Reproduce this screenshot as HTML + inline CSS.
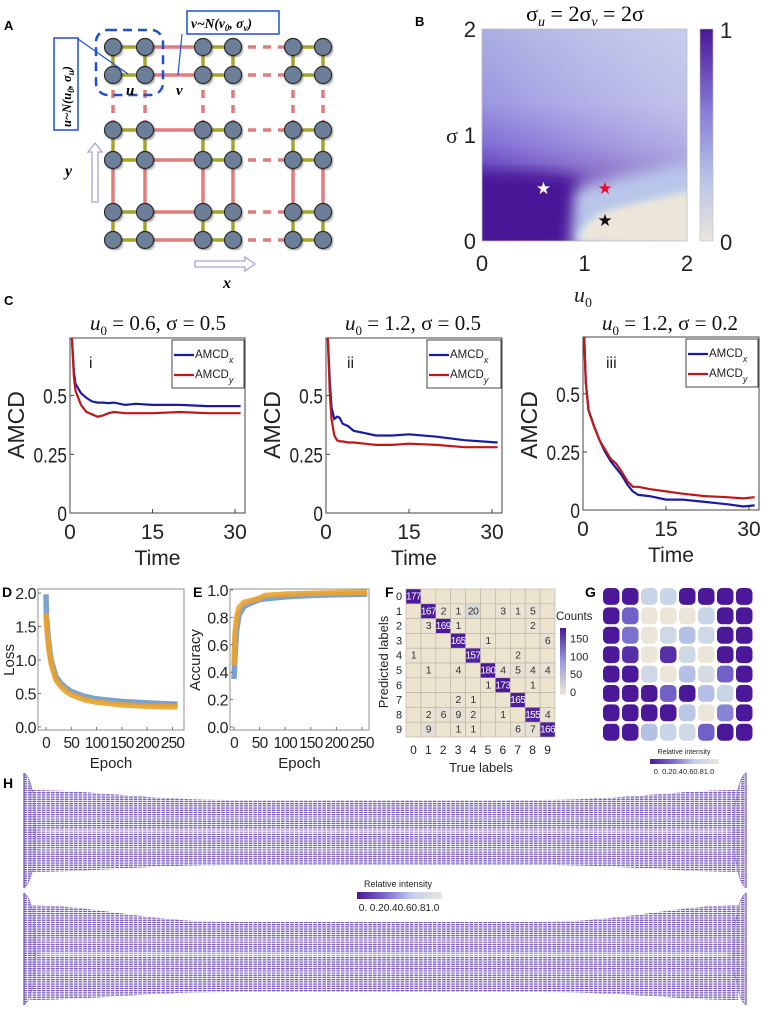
<!DOCTYPE html>
<html><head><meta charset="utf-8"><style>
html,body{margin:0;padding:0;background:#fff;}
svg{display:block;font-family:"Liberation Sans",sans-serif;}
.ser{font-family:"Liberation Serif",serif;}
</style></head><body>
<svg id="fig" width="762" height="1016" viewBox="0 0 762 1016" xmlns="http://www.w3.org/2000/svg">
<defs>
<linearGradient id="bV" x1="0" y1="0" x2="0" y2="1">
<stop offset="0" stop-color="#a9aee2"/><stop offset="0.35" stop-color="#9a96e0"/><stop offset="0.55" stop-color="#7d6ad4"/><stop offset="0.7" stop-color="#5a30b0"/><stop offset="0.8" stop-color="#4a1a9a"/><stop offset="1" stop-color="#4a1898"/></linearGradient>
<linearGradient id="bH" x1="0" y1="0" x2="1" y2="0">
<stop offset="0" stop-color="#fff" stop-opacity="0"/><stop offset="1" stop-color="#dfe6f2" stop-opacity="0.55"/></linearGradient>
<linearGradient id="cbB" x1="0" y1="0" x2="0" y2="1">
<stop offset="0" stop-color="#4a1898"/><stop offset="0.4" stop-color="#8a80d8"/><stop offset="0.7" stop-color="#b6c2e8"/><stop offset="1" stop-color="#ebe6dc"/></linearGradient>
<linearGradient id="cbH" x1="0" y1="0" x2="1" y2="0">
<stop offset="0" stop-color="#4a1898"/><stop offset="0.35" stop-color="#8070d0"/><stop offset="0.65" stop-color="#c4cfea"/><stop offset="1" stop-color="#ece6d8"/></linearGradient>
<linearGradient id="cbF" x1="0" y1="0" x2="0" y2="1">
<stop offset="0" stop-color="#4a1898"/><stop offset="0.5" stop-color="#9a9ae0"/><stop offset="1" stop-color="#ede6d4"/></linearGradient>
<filter id="blur3"><feGaussianBlur stdDeviation="3"/></filter>
<filter id="blur6"><feGaussianBlur stdDeviation="7"/></filter>
<filter id="blurS"><feGaussianBlur stdDeviation="4"/></filter>
<filter id="sh"><feDropShadow dx="1.5" dy="1.5" stdDeviation="1" flood-color="#000" flood-opacity="0.35"/></filter>
<pattern id="hp" width="4.6" height="2.2" patternUnits="userSpaceOnUse"><rect x="0.4" y="0" width="3.6" height="1.3" fill="#7456b8"/></pattern>
<clipPath id="clipB"><rect x="482" y="29" width="205" height="212"/></clipPath>
</defs>

<!-- Panel A -->
<g id="panelA">
<text x="4" y="30" font-size="13" font-weight="bold">A</text>
<g id="aEdges"></g>
<g id="aNodes"></g>
<rect x="96" y="30" width="67" height="65" rx="12" fill="none" stroke="#1f4fd8" stroke-width="2.5" stroke-dasharray="9,6"/>
<rect x="54" y="38" width="24" height="92" fill="#fff" stroke="#1f4fd8" stroke-width="1.5"/>
<text class="ser" transform="translate(71,127) rotate(-90)" font-size="12.5" font-weight="bold" font-style="italic">u~N(u<tspan font-size="9" dy="3">0</tspan><tspan dy="-3">, σ</tspan><tspan font-size="9" dy="3">u</tspan><tspan dy="-3">)</tspan></text>
<rect x="187" y="11" width="92" height="23" fill="#fff" stroke="#1f4fd8" stroke-width="1.5"/>
<text class="ser" x="191" y="28" font-size="13.5" font-weight="bold" font-style="italic">v~N(v<tspan font-size="9" dy="3">0</tspan><tspan dy="-3">, σ</tspan><tspan font-size="9" dy="3">v</tspan><tspan dy="-3">)</tspan></text>
<line x1="78" y1="39" x2="128" y2="74" stroke="#1f4fd8" stroke-width="1.2"/>
<line x1="182" y1="34" x2="178" y2="75" stroke="#1f4fd8" stroke-width="1.2"/>
<text class="ser" x="126" y="95" font-size="15" font-weight="bold" font-style="italic">u</text>
<text class="ser" x="176" y="95" font-size="15" font-weight="bold" font-style="italic">v</text>
<path d="M92,202 L92,152 L88,152 L95,143 L102,152 L98,152 L98,202 Z" fill="#fff" stroke="#b0a0d8" stroke-width="1.3"/>
<text class="ser" x="65" y="176" font-size="16" font-weight="bold" font-style="italic">y</text>
<path d="M195,261 L245,261 L245,257 L255,264 L245,271 L245,267 L195,267 Z" fill="#fff" stroke="#b0a0d8" stroke-width="1.3"/>
<text class="ser" x="223" y="288" font-size="16" font-weight="bold" font-style="italic">x</text>
</g>

<!-- Panel B -->
<g id="panelB">
<text x="415" y="26" font-size="13" font-weight="bold">B</text>
<text class="ser" x="585" y="21" font-size="22" text-anchor="middle">σ<tspan font-size="14" font-style="italic" dy="5">u</tspan><tspan dy="-5"> = 2σ</tspan><tspan font-size="14" font-style="italic" dy="5">v</tspan><tspan dy="-5"> = 2σ</tspan></text>
<g clip-path="url(#clipB)">
<rect x="482" y="29" width="205" height="212" fill="url(#bV)"/>
<rect x="482" y="29" width="205" height="212" fill="url(#bH)"/>
<path d="M470,175 C520,172 560,172 580,180 L580,250 L470,250 Z" fill="#4a1898" filter="url(#blur6)"/>
<path d="M575,190 C620,175 650,170 700,160 L700,250 L570,250 Z" fill="#b9c6ea" filter="url(#blur6)"/>
<path d="M577,241 C577,225 590,212 610,206 C640,198 665,192 690,185 L690,245 Z" fill="#bfd0ea" filter="url(#blur3)"/>
<path d="M581,241 C581,228 592,216 612,210 C642,202 667,197 690,192 L690,245 Z" fill="#ece6da" filter="url(#blur3)"/>
</g>
<rect x="482" y="29" width="205" height="212" fill="none" stroke="#bbb" stroke-width="0.8"/>
<g id="bStars"></g>
<g id="bAxes"></g>
<rect x="700" y="29" width="13" height="212" fill="url(#cbB)" stroke="#bbb" stroke-width="0.6"/>
<text x="720" y="38" font-size="22" fill="#222">1</text>
<text x="720" y="250" font-size="22" fill="#222">0</text>
<text class="ser" x="446" y="143" font-size="22" fill="#222">σ</text>
<text class="ser" x="574" y="302" font-size="22" font-style="italic" fill="#222">u<tspan font-size="14" dy="5" font-style="normal">0</tspan></text>
</g>

<!-- Panel C -->
<g id="panelC">
<text x="4" y="305" font-size="13" font-weight="bold">C</text>
</g>

<!-- Panels D E F G -->
<g id="panelD">
<text x="2" y="597" font-size="14" font-weight="bold">D</text>
</g>
<g id="panelE">
<text x="193" y="597" font-size="14" font-weight="bold">E</text>
</g>
<g id="panelF">
<text x="385" y="597" font-size="14" font-weight="bold">F</text>
</g>
<g id="panelG">
<text x="585" y="597" font-size="14" font-weight="bold">G</text>
<text x="684" y="754" font-size="7" text-anchor="middle" fill="#222">Relative intensity</text>
<rect x="650" y="759" width="69" height="5" fill="url(#cbH)"/>
<text x="684" y="774" font-size="7.5" text-anchor="middle" fill="#222">0. 0.20.40.60.81.0</text>
</g>

<!-- Panel H -->
<g id="panelH">
<text x="3" y="788" font-size="14" font-weight="bold">H</text>
<g id="hBands"></g>
<text x="398" y="887" font-size="9" text-anchor="middle" fill="#222">Relative intensity</text>
<rect x="357" y="892" width="85" height="7" fill="url(#cbH)"/>
<text x="399" y="911" font-size="10" text-anchor="middle" fill="#222">0. 0.20.40.60.81.0</text>
</g>
</svg>

<script>
const NS = 'http://www.w3.org/2000/svg';
function el(tag, parent) { const e = document.createElementNS(NS, tag); parent.appendChild(e); return e; }
function at(e, o) { for (const k in o) e.setAttribute(k, o[k]); return e; }
function lin(d0, d1, r0, r1) { return v => r0 + (v - d0) / (d1 - d0) * (r1 - r0); }

/* ---------- Panel C data ---------- */
const c1Time = [0.3, 0.7, 1, 2, 3, 4, 5, 6, 7, 8, 10, 12, 15, 20, 25, 31];
const c1Blue = [0.76, 0.6, 0.55, 0.51, 0.49, 0.475, 0.47, 0.47, 0.468, 0.47, 0.46, 0.465, 0.46, 0.46, 0.455, 0.455];
const c1Red = [0.76, 0.58, 0.52, 0.46, 0.43, 0.42, 0.41, 0.415, 0.425, 0.43, 0.425, 0.425, 0.425, 0.43, 0.425, 0.425];
const c2Time = [0.3, 0.7, 1, 1.5, 2, 2.5, 3, 4, 5, 7, 9, 12, 15, 20, 25, 31];
const c2Blue = [0.76, 0.55, 0.45, 0.4, 0.41, 0.405, 0.38, 0.37, 0.35, 0.34, 0.33, 0.33, 0.335, 0.325, 0.31, 0.3];
const c2Red = [0.76, 0.5, 0.4, 0.33, 0.31, 0.305, 0.305, 0.3, 0.3, 0.295, 0.29, 0.29, 0.295, 0.29, 0.28, 0.28];
const c3Time = [0.2, 0.5, 1, 2, 3, 4, 5, 6, 7, 8, 9, 10, 12, 15, 18, 22, 26, 29, 31];
const c3Blue = [0.76, 0.55, 0.43, 0.36, 0.3, 0.25, 0.21, 0.18, 0.15, 0.11, 0.08, 0.065, 0.06, 0.045, 0.045, 0.035, 0.025, 0.015, 0.02];
const c3Red = [0.76, 0.55, 0.43, 0.36, 0.3, 0.26, 0.22, 0.2, 0.165, 0.125, 0.1, 0.1, 0.09, 0.08, 0.07, 0.06, 0.055, 0.05, 0.055];
const cYTicks = [0, 0.25, 0.5];
const cYTickLabels = ['0', '0.25', '0.5'];
const cXTicks = [0, 15, 30];
const cRoman = ['i', 'ii', 'iii'];
const cTitleU0 = ['0.6', '1.2', '1.2'];
const cTitleSigma = ['0.5', '0.5', '0.2'];

/* ---------- Panel B data ---------- */
const bStarU0 = [0.6, 1.2, 1.2];
const bStarSigma = [0.5, 0.5, 0.2];
const bStarColor = ['#ffffff', '#e8102a', '#111111'];
const bTicks = [0, 1, 2];

/* ---------- Panel D/E data ---------- */
const dEpoch = [0, 1, 5, 10, 20, 30, 40, 50, 75, 100, 150, 200, 260];
const dLossBlue = [1.98, 1.65, 1.3, 1.0, 0.75, 0.65, 0.58, 0.53, 0.46, 0.42, 0.38, 0.36, 0.34];
const dLossOrange = [1.7, 1.55, 1.2, 0.95, 0.7, 0.6, 0.53, 0.48, 0.41, 0.37, 0.33, 0.31, 0.3];
const dYTicks = [0, 0.5, 1.0, 1.5, 2.0];
const dXTicks = [0, 50, 100, 150, 200, 250];
const eEpoch = [0, 2, 5, 10, 20, 30, 50, 60, 100, 150, 200, 260];
const eAccBlue = [0.35, 0.52, 0.7, 0.82, 0.88, 0.9, 0.93, 0.935, 0.95, 0.96, 0.965, 0.97];
const eAccOrange = [0.45, 0.68, 0.8, 0.87, 0.91, 0.92, 0.94, 0.96, 0.97, 0.975, 0.98, 0.985];
const eYTicks = [0, 0.2, 0.4, 0.6, 0.8, 1.0];

/* ---------- Panel F data ---------- */
const fLabels = ['0','1','2','3','4','5','6','7','8','9'];
const fRow0 = [177,0,0,0,0,0,0,0,0,0];
const fRow1 = [0,167,2,1,20,0,3,1,5,0];
const fRow2 = [0,3,169,1,0,0,0,0,2,0];
const fRow3 = [0,0,0,165,0,1,0,0,0,6];
const fRow4 = [1,0,0,0,157,0,0,2,0,0];
const fRow5 = [0,1,0,4,0,180,4,5,4,4];
const fRow6 = [0,0,0,0,0,1,173,0,1,0];
const fRow7 = [0,0,0,2,1,0,0,165,0,0];
const fRow8 = [0,2,6,9,2,0,1,0,155,4];
const fRow9 = [0,9,0,1,1,0,0,6,7,166];
const fCbTicks = [0, 50, 100, 150];

/* ---------- Panel G data ---------- */
const gRow0 = [0,0,0.75,0.75,0,0,0,0];
const gRow1 = [0,0.3,1,1,1,0.75,0,0];
const gRow2 = [0,0.35,1,0.8,0.6,0.8,0,0];
const gRow3 = [0,0.1,1,0.1,0.8,1,0,0];
const gRow4 = [0,0,0.8,1,0.6,0.85,0.3,0];
const gRow5 = [0,0,0,0.3,0,0.6,0.75,0];
const gRow6 = [0,0,0,0,0.65,1,0.4,0];
const gRow7 = [0,0,0.6,0.75,0.8,0.3,0,0];

function mix(a, b, t) {
  const pa = [1,3,5].map(i => parseInt(a.substr(i,2),16)), pb = [1,3,5].map(i => parseInt(b.substr(i,2),16));
  return 'rgb(' + pa.map((v,i) => Math.round(v + (pb[i]-v)*t)).join(',') + ')';
}
function ramp(t) {
  const st = [[0,'#4a1898'],[0.3,'#7060c8'],[0.55,'#aeb8e6'],[0.75,'#c8d6e8'],[1,'#ece6d8']];
  for (let i = 1; i < st.length; i++) if (t <= st[i][0]) return mix(st[i-1][1], st[i][1], (t - st[i-1][0]) / (st[i][0] - st[i-1][0]));
  return st[st.length-1][1];
}

/* ---------- Panel A ---------- */
(function(){
  const gE = document.getElementById('aEdges'), gN = document.getElementById('aNodes');
  const cx = [113,145,203,233,293,323], cy = [47,75,130,160,212,240];
  for (let r = 0; r < 6; r++) {
    for (let c = 0; c < 5; c++) {
      const l = el('line', gE);
      at(l, {x1: cx[c], y1: cy[r], x2: cx[c+1], y2: cy[r]});
      if (c % 2 === 0) { at(l, {stroke: '#a6a42a', 'stroke-width': 3.5});  }
      else if (c === 1) { at(l, {stroke: '#e27c7c', 'stroke-width': 3.5});  }
      else { at(l, {stroke: '#e27c7c', 'stroke-width': 3.5, 'stroke-dasharray': '8,7'});  }
      
    }
  }
  for (let c = 0; c < 6; c++) {
    for (let r = 0; r < 5; r++) {
      const l = el('line', gE);
      at(l, {x1: cx[c], y1: cy[r], x2: cx[c], y2: cy[r+1]});
      if (r % 2 === 0) { at(l, {stroke: '#a6a42a', 'stroke-width': 3.5});  }
      else if (r === 1) { at(l, {stroke: '#e27c7c', 'stroke-width': 3.5, 'stroke-dasharray': '8,7'});  }
      else { at(l, {stroke: '#e27c7c', 'stroke-width': 3.5});  }
      
    }
  }
  for (let r = 0; r < 6; r++) for (let c = 0; c < 6; c++) {
    const n = el('circle', gN);
    at(n, {cx: cx[c], cy: cy[r], r: 8.5, fill: '#6d7f98', stroke: '#2a2a2a', 'stroke-width': 1.2, filter: 'url(#sh)'});
    
    
  }
})();

/* ---------- Panel B axes & stars ---------- */
(function(){
  const g = document.getElementById('bAxes'), gs = document.getElementById('bStars');
  const sx = lin(0, 2, 482, 687), sy = lin(0, 2, 241, 29);
  bTicks.forEach(t => {
    const a = el('text', g);
    at(a, {x: sx(t), y: 271, 'font-size': 22, 'text-anchor': 'middle', fill: '#222'});
    a.textContent = String(t);
    
    
    const b = el('text', g);
    at(b, {x: 476, y: sy(t) + 8, 'font-size': 22, 'text-anchor': 'end', fill: '#222'});
    b.textContent = String(t);
    
    
  });
  bStarU0.forEach((u, i) => {
    const s = el('text', gs);
    at(s, {x: sx(u), y: sy(bStarSigma[i]) + 6, 'font-size': 17, 'text-anchor': 'middle', fill: bStarColor[i]});
    s.textContent = '★';
    
    
  });
})();

/* ---------- Panel C ---------- */
(function(){
  const root = document.getElementById('panelC');
  const frames = [
    {x0: 70, x1: 245, y0: 338, y1: 513, lx: 172, ax: 16, tx: 158},
    {x0: 326, x1: 502, y0: 338, y1: 513, lx: 427, ax: 272, tx: 413},
    {x0: 583, x1: 759, y0: 337, y1: 510, lx: 686, ax: 529, tx: 670}
  ];
  const times = [c1Time, c2Time, c3Time], blues = [c1Blue, c2Blue, c3Blue], reds = [c1Red, c2Red, c3Red];
  frames.forEach((f, k) => {
    const g = el('g', root);
    
    
    const sx = lin(0, 31.8, f.x0, f.x1), sy = lin(0, 0.745, f.y1, f.y0);
    const cp = el('clipPath', g); cp.setAttribute('id', 'cc' + k);
    at(el('rect', cp), {x: f.x0, y: f.y0, width: f.x1 - f.x0, height: f.y1 - f.y0});
    const fr = el('rect', g);
    at(fr, {x: f.x0, y: f.y0, width: f.x1 - f.x0, height: f.y1 - f.y0, fill: 'none', stroke: '#444', 'stroke-width': 1});
    
    
    cYTicks.forEach((t, i) => {
      const tl = el('line', g);
      at(tl, {x1: f.x0, x2: f.x0 + 4, y1: sy(t), y2: sy(t), stroke: '#444'});
      
      
      const tx = el('text', g);
      at(tx, {x: f.x0 - 3, y: sy(t) + 8, 'font-size': 21, 'text-anchor': 'end', fill: '#222', transform: 'translate(' + (f.x0 - 3) * 0.18 + ',0) scale(0.82,1)'});
      tx.textContent = cYTickLabels[i];
      
      
    });
    cXTicks.forEach(t => {
      const tl = el('line', g);
      at(tl, {x1: sx(t), x2: sx(t), y1: f.y1, y2: f.y1 - 4, stroke: '#444'});
      
      
      const tx = el('text', g);
      at(tx, {x: sx(t), y: f.y1 + 26, 'font-size': 21, 'text-anchor': 'middle', fill: '#222'});
      tx.textContent = String(t);
      
      
    });
    const xt = el('text', g);
    at(xt, {x: (f.x0 + f.x1) / 2, y: f.y1 + 52, 'font-size': 21, 'text-anchor': 'middle', fill: '#222'});
    xt.textContent = 'Time';
    
    
    const yt = el('text', g);
    at(yt, {x: 0, y: 0, 'font-size': 23, 'text-anchor': 'middle', fill: '#222', transform: 'translate(' + (f.ax + 8) + ',' + 425 + ') rotate(-90)'});
    yt.textContent = 'AMCD';
    
    
    const tt = el('text', g);
    at(tt, {x: f.tx, y: 330, 'font-size': 21, 'text-anchor': 'middle', fill: '#111', class: 'ser'});
    tt.innerHTML = '<tspan font-style="italic">u</tspan><tspan font-size="13" dy="5">0</tspan><tspan dy="-5"> = ' + cTitleU0[k] + ', σ = ' + cTitleSigma[k] + '</tspan>';
    
    
    const rn = el('text', g);
    at(rn, {x: f.x0 + 19 + k * 2, y: 368, 'font-size': 16, fill: '#222'});
    rn.textContent = cRoman[k];
    
    
    [[blues[k], '#1a1aa8', 'amcd-x-line'], [reds[k], '#c01818', 'amcd-y-line']].forEach(s => {
      const p = el('polyline', g);
      at(p, {points: times[k].map((t, i) => sx(t).toFixed(1) + ',' + sy(s[0][i]).toFixed(1)).join(' '), fill: 'none', stroke: s[1], 'stroke-width': 2.2, 'clip-path': 'url(#cc' + k + ')'});
      
      
    });
    const lg = el('g', g);
    
    
    at(el('rect', lg), {x: f.lx, y: f.y0 + 2, width: f.x1 - f.lx - 1, height: 48, fill: '#fff', stroke: '#444', 'stroke-width': 1});
    [['#1a1aa8', 'x', 17], ['#c01818', 'y', 37]].forEach(e => {
      const ln = el('line', lg);
      at(ln, {x1: f.lx + 2, x2: f.lx + 22, y1: f.y0 + e[2], y2: f.y0 + e[2], stroke: e[0], 'stroke-width': 2.2});
      
      
      const tx = el('text', lg);
      at(tx, {x: f.lx + 23, y: f.y0 + e[2] + 3, 'font-size': 11.5, fill: '#222'});
      tx.innerHTML = 'AMCD<tspan font-size="9" font-style="italic" dy="5">' + e[1] + '</tspan>';
      
      
    });
  });
})();

/* ---------- Panels D & E ---------- */
function trainPlot(rootId, f, xs, ser, yTicks, yDom, yLabel, yFmt) {
  const g = document.getElementById(rootId);
  const sx = lin(0, 250, f.xz, f.x250), sy = lin(yDom[0], yDom[1], f.yb, f.yt);
  const fr = el('rect', g);
  at(fr, {x: f.x0, y: f.y0, width: f.x1 - f.x0, height: f.y1 - f.y0, fill: 'none', stroke: '#777', 'stroke-width': 0.8});
  
  
  ser.forEach(s => {
    const p = el('polyline', g);
    at(p, {points: xs.map((x, i) => sx(x).toFixed(1) + ',' + sy(s[0][i]).toFixed(1)).join(' '), fill: 'none', stroke: s[1], 'stroke-width': 5.5, 'stroke-linejoin': 'round', 'stroke-opacity': 0.9});
    
    
  });
  yTicks.forEach(t => {
    const tl = el('line', g);
    at(tl, {x1: f.x0, x2: f.x0 + 3, y1: sy(t), y2: sy(t), stroke: '#777'});
    
    
    const tx = el('text', g);
    at(tx, {x: f.x0 - 2, y: sy(t) + 6, 'font-size': 16, 'text-anchor': 'end', fill: '#222', 'letter-spacing': '-0.5'});
    tx.textContent = yFmt(t);
    
    
  });
  dXTicks.forEach(t => {
    const tl = el('line', g);
    at(tl, {x1: sx(t), x2: sx(t), y1: f.y1, y2: f.y1 - 3, stroke: '#777'});
    
    
    const tx = el('text', g);
    at(tx, {x: sx(t), y: f.y1 + 18, 'font-size': 15.5, 'text-anchor': 'middle', fill: '#222', 'letter-spacing': '-0.8'});
    tx.textContent = String(t);
    
    
  });
  const xt = el('text', g);
  at(xt, {x: (f.x0 + f.x1) / 2, y: 768, 'font-size': 15, 'text-anchor': 'middle', fill: '#222'});
  xt.textContent = 'Epoch';
  
  
  const yt = el('text', g);
  at(yt, {x: 0, y: 0, 'font-size': 15, 'text-anchor': 'middle', fill: '#222', transform: 'translate(' + f.ax + ',660) rotate(-90)'});
  yt.textContent = yLabel;
  
  
}
trainPlot('panelD', {x0: 38, x1: 184, y0: 589, y1: 730, xz: 46, x250: 172.5, yb: 727, yt: 593, ax: 14},
  dEpoch, [[dLossBlue, '#6a98cc', 'train-loss-line'], [dLossOrange, '#eaa22c', 'val-loss-line']], dYTicks, [0, 2], 'Loss', t => t.toFixed(1));
trainPlot('panelE', {x0: 230, x1: 369, y0: 589, y1: 730, xz: 234, x250: 362, yb: 727, yt: 590, ax: 200},
  eEpoch, [[eAccBlue, '#6a98cc', 'train-accuracy-line'], [eAccOrange, '#eaa22c', 'val-accuracy-line']], eYTicks, [0, 1], 'Accuracy', t => t.toFixed(1));

/* ---------- Panel F ---------- */
(function(){
  const g = document.getElementById('panelF');
  const rows = [fRow0, fRow1, fRow2, fRow3, fRow4, fRow5, fRow6, fRow7, fRow8, fRow9];
  const x0 = 406, y0 = 589, cw = 14.9, ch = 14.8;
  const col = v => v === 0 ? '#ede4d0' : (v < 30 ? mix('#ede4d0', '#cfd2e0', v / 30) : mix('#9a98de', '#4a1898', Math.min(1, (v - 30) / 140)));
  rows.forEach((r, i) => r.forEach((v, j) => {
    const c = el('rect', g);
    at(c, {x: x0 + j * cw, y: y0 + i * ch, width: cw, height: ch, fill: col(v), stroke: '#b8b0a0', 'stroke-width': 0.6});
    
    
    if (v > 0) {
      const t = el('text', g);
      at(t, {x: x0 + j * cw + cw / 2, y: y0 + i * ch + 10.5, 'font-size': v > 99 ? 10 : 10.5, 'text-anchor': 'middle', fill: v > 100 ? '#fff' : '#333', 'letter-spacing': '-0.6'});
      t.textContent = String(v);
      
      
    }
  }));
  fLabels.forEach((l, i) => {
    const a = el('text', g);
    at(a, {x: 399, y: y0 + i * ch + 11, 'font-size': 11, 'text-anchor': 'middle', fill: '#222'});
    a.textContent = l;
    
    
    const b = el('text', g);
    at(b, {x: x0 + i * cw + cw / 2, y: 754, 'font-size': 12, 'text-anchor': 'middle', fill: '#222'});
    b.textContent = l;
    
    
  });
  const xt = el('text', g);
  at(xt, {x: 481, y: 772, 'font-size': 13, 'text-anchor': 'middle', fill: '#222'});
  xt.textContent = 'True labels';
  
  
  const yt = el('text', g);
  at(yt, {x: 0, y: 0, 'font-size': 13, 'text-anchor': 'middle', fill: '#222', transform: 'translate(388,662) rotate(-90)'});
  yt.textContent = 'Predicted labels';
  
  
  const cb = el('rect', g);
  at(cb, {x: 560, y: 628, width: 6, height: 67, fill: 'url(#cbF)'});
  
  
  const ct = el('text', g);
  at(ct, {x: 556, y: 620, 'font-size': 11.5, fill: '#222'});
  ct.textContent = 'Counts';
  
  
  const cs = lin(0, 180, 692, 628);
  fCbTicks.forEach(t => {
    const tx = el('text', g);
    at(tx, {x: 570, y: cs(t) + 4, 'font-size': 11, fill: '#222'});
    tx.textContent = String(t);
    
    
  });
})();

/* ---------- Panel G ---------- */
(function(){
  const g = document.getElementById('panelG');
  const rows = [gRow0, gRow1, gRow2, gRow3, gRow4, gRow5, gRow6, gRow7];
  const x0 = 602, y0 = 587, cw = 19, ch = 19.4;
  rows.forEach((r, i) => r.forEach((v, j) => {
    const c = el('rect', g);
    at(c, {x: x0 + j * cw + 1, y: y0 + i * ch + 1, width: cw - 2.5, height: ch - 2.5, rx: 5, fill: ramp(v)});
    
    
  }));
})();

/* ---------- Panel H ---------- */
(function(){
  const g = document.getElementById('hBands');
  const bands = [
    {top: 773, bot: 888, bt: 800, bb: 865, et: 790, eb: 872, streak: 835},
    {top: 893, bot: 1005, bt: 922, bb: 992, et: 905, eb: 1000, streak: 958}
  ];
  bands.forEach((b, k) => {
    const bg = el('g', g);
    
    
    const body = el('path', bg);
    at(body, {d: 'M30,' + b.et + ' C90,' + b.et + ' 150,' + b.bt + ' 230,' + b.bt + ' L540,' + b.bt + ' C620,' + b.bt + ' 680,' + b.et + ' 738,' + b.et +
      ' L738,' + b.eb + ' C680,' + b.eb + ' 620,' + b.bb + ' 540,' + b.bb + ' L230,' + b.bb + ' C150,' + b.bb + ' 90,' + b.eb + ' 30,' + b.eb + ' Z', fill: 'url(#hp)'});
    
    
    [[b.streak - 4, 10, 0.5], [b.streak - 18, 5, 0.3], [b.streak + 14, 5, 0.3]].forEach(s => {
      const r = el('path', bg);
      at(r, {d: 'M40,' + s[0] + ' C200,' + (s[0] - 4) + ' 400,' + (s[0] + 5) + ' 730,' + (s[0] + 2), stroke: '#fff', 'stroke-width': s[1], 'stroke-opacity': s[2], fill: 'none', filter: 'url(#blurS)'});
      
      
    });
    [[24, 1], [746, -1]].forEach(e => {
      const fan = el('path', bg);
      at(fan, {d: 'M' + e[0] + ',' + b.top + ' C' + (e[0] + e[1] * 16) + ',' + (b.top + 10) + ' ' + (e[0] + e[1] * 16) + ',' + (b.bot - 10) + ' ' + e[0] + ',' + b.bot, fill: 'url(#hp)', stroke: '#9a88cc', 'stroke-width': 0.8});
      
      
      const ln = el('line', bg);
      at(ln, {x1: e[0], x2: e[0], y1: b.top, y2: b.bot, stroke: '#7b5cbc', 'stroke-width': 1.3});
      
      
    });
  });
})();
</script>
</body></html>
